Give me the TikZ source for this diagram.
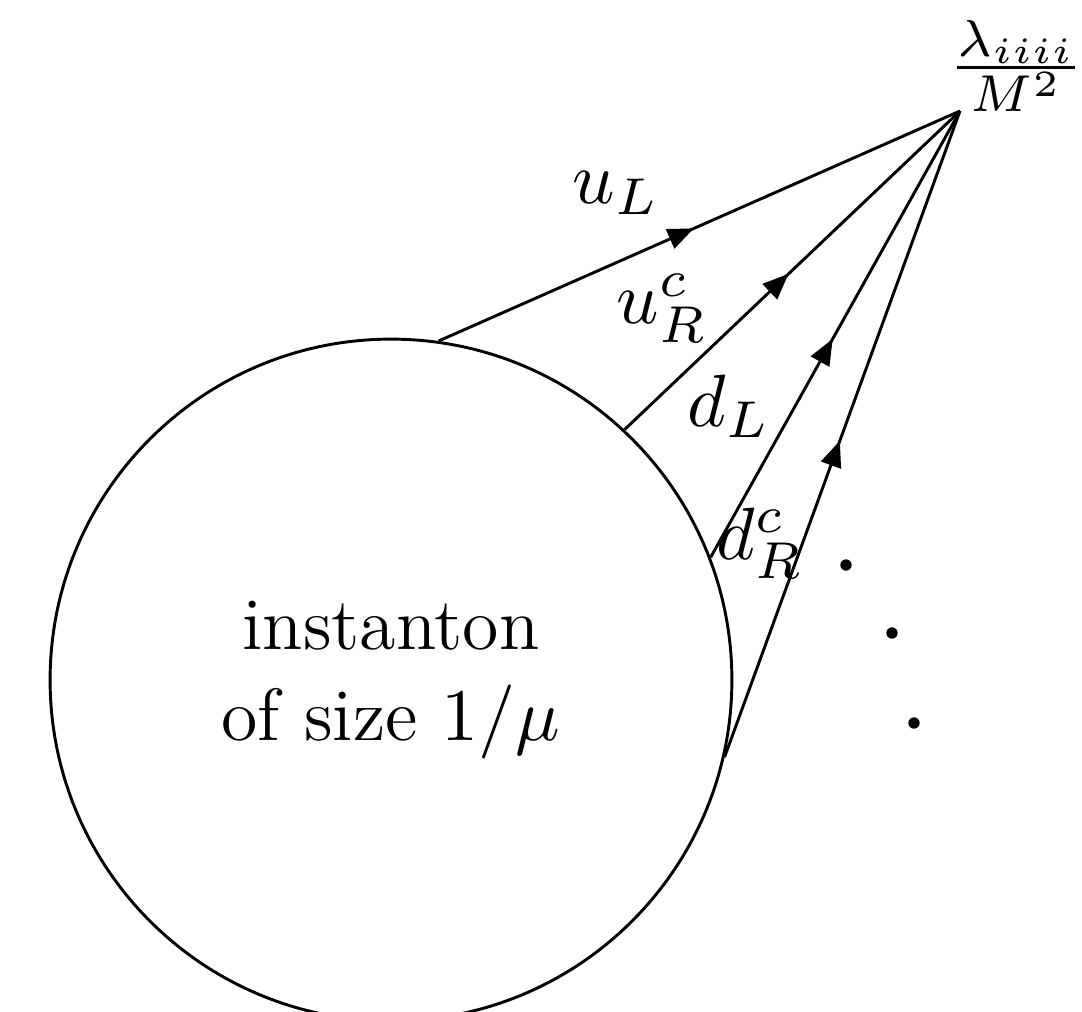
\RequirePackage{fix-cm}
\documentclass[tikz,border=0pt]{standalone}
\usetikzlibrary{arrows.meta,decorations.markings}
\begin{document}
\begin{tikzpicture}[x=0.15385pt,y=-0.15385pt,
  line width=0.45pt,
  every node/.style={font=\fontsize{11.4}{13.9}\selectfont},
  fermion/.style={postaction={decorate},decoration={markings,
     mark=at position 0.49 with {\arrow{Triangle[length=4pt,width=3.2pt]}}}},
  lbl/.style={inner sep=0pt},
  dotn/.style={circle,fill,inner sep=0pt,minimum size=1.75pt}]
\useasboundingbox (0,0) rectangle (1082,1011);
\clip (0,0) rectangle (1082,1011);
\node[circle,draw,minimum size=104.9pt,inner sep=0pt,align=center,line width=0.45pt] (inst) at (391,680)
  {instanton\\ of size $1/\mu$};
\coordinate (v) at (960,111);
\draw[fermion] (inst.82.25) -- (v);
\draw[fermion] (inst.47.7) -- (v);
\draw[fermion] (inst.21.5) -- (v);
\draw[fermion] (inst.-13.95) -- (v);
\node[lbl] (lam) at (1016,66) {$\frac{\lambda_{iiii}}{M^2}$};
\node[lbl] (uL) at (616,193) {$u_L$};
\node[lbl] (uR) at (662,308) {$u_R^c$};
\node[lbl] (dL) at (729,406) {$d_L$};
\node[lbl] (dR) at (760,543) {$d_R^c$};
\node[dotn] (p1) at (846,565) {};
\node[dotn] (p2) at (892,633) {};
\node[dotn] (p3) at (914,723) {};
\end{tikzpicture}
\end{document}
